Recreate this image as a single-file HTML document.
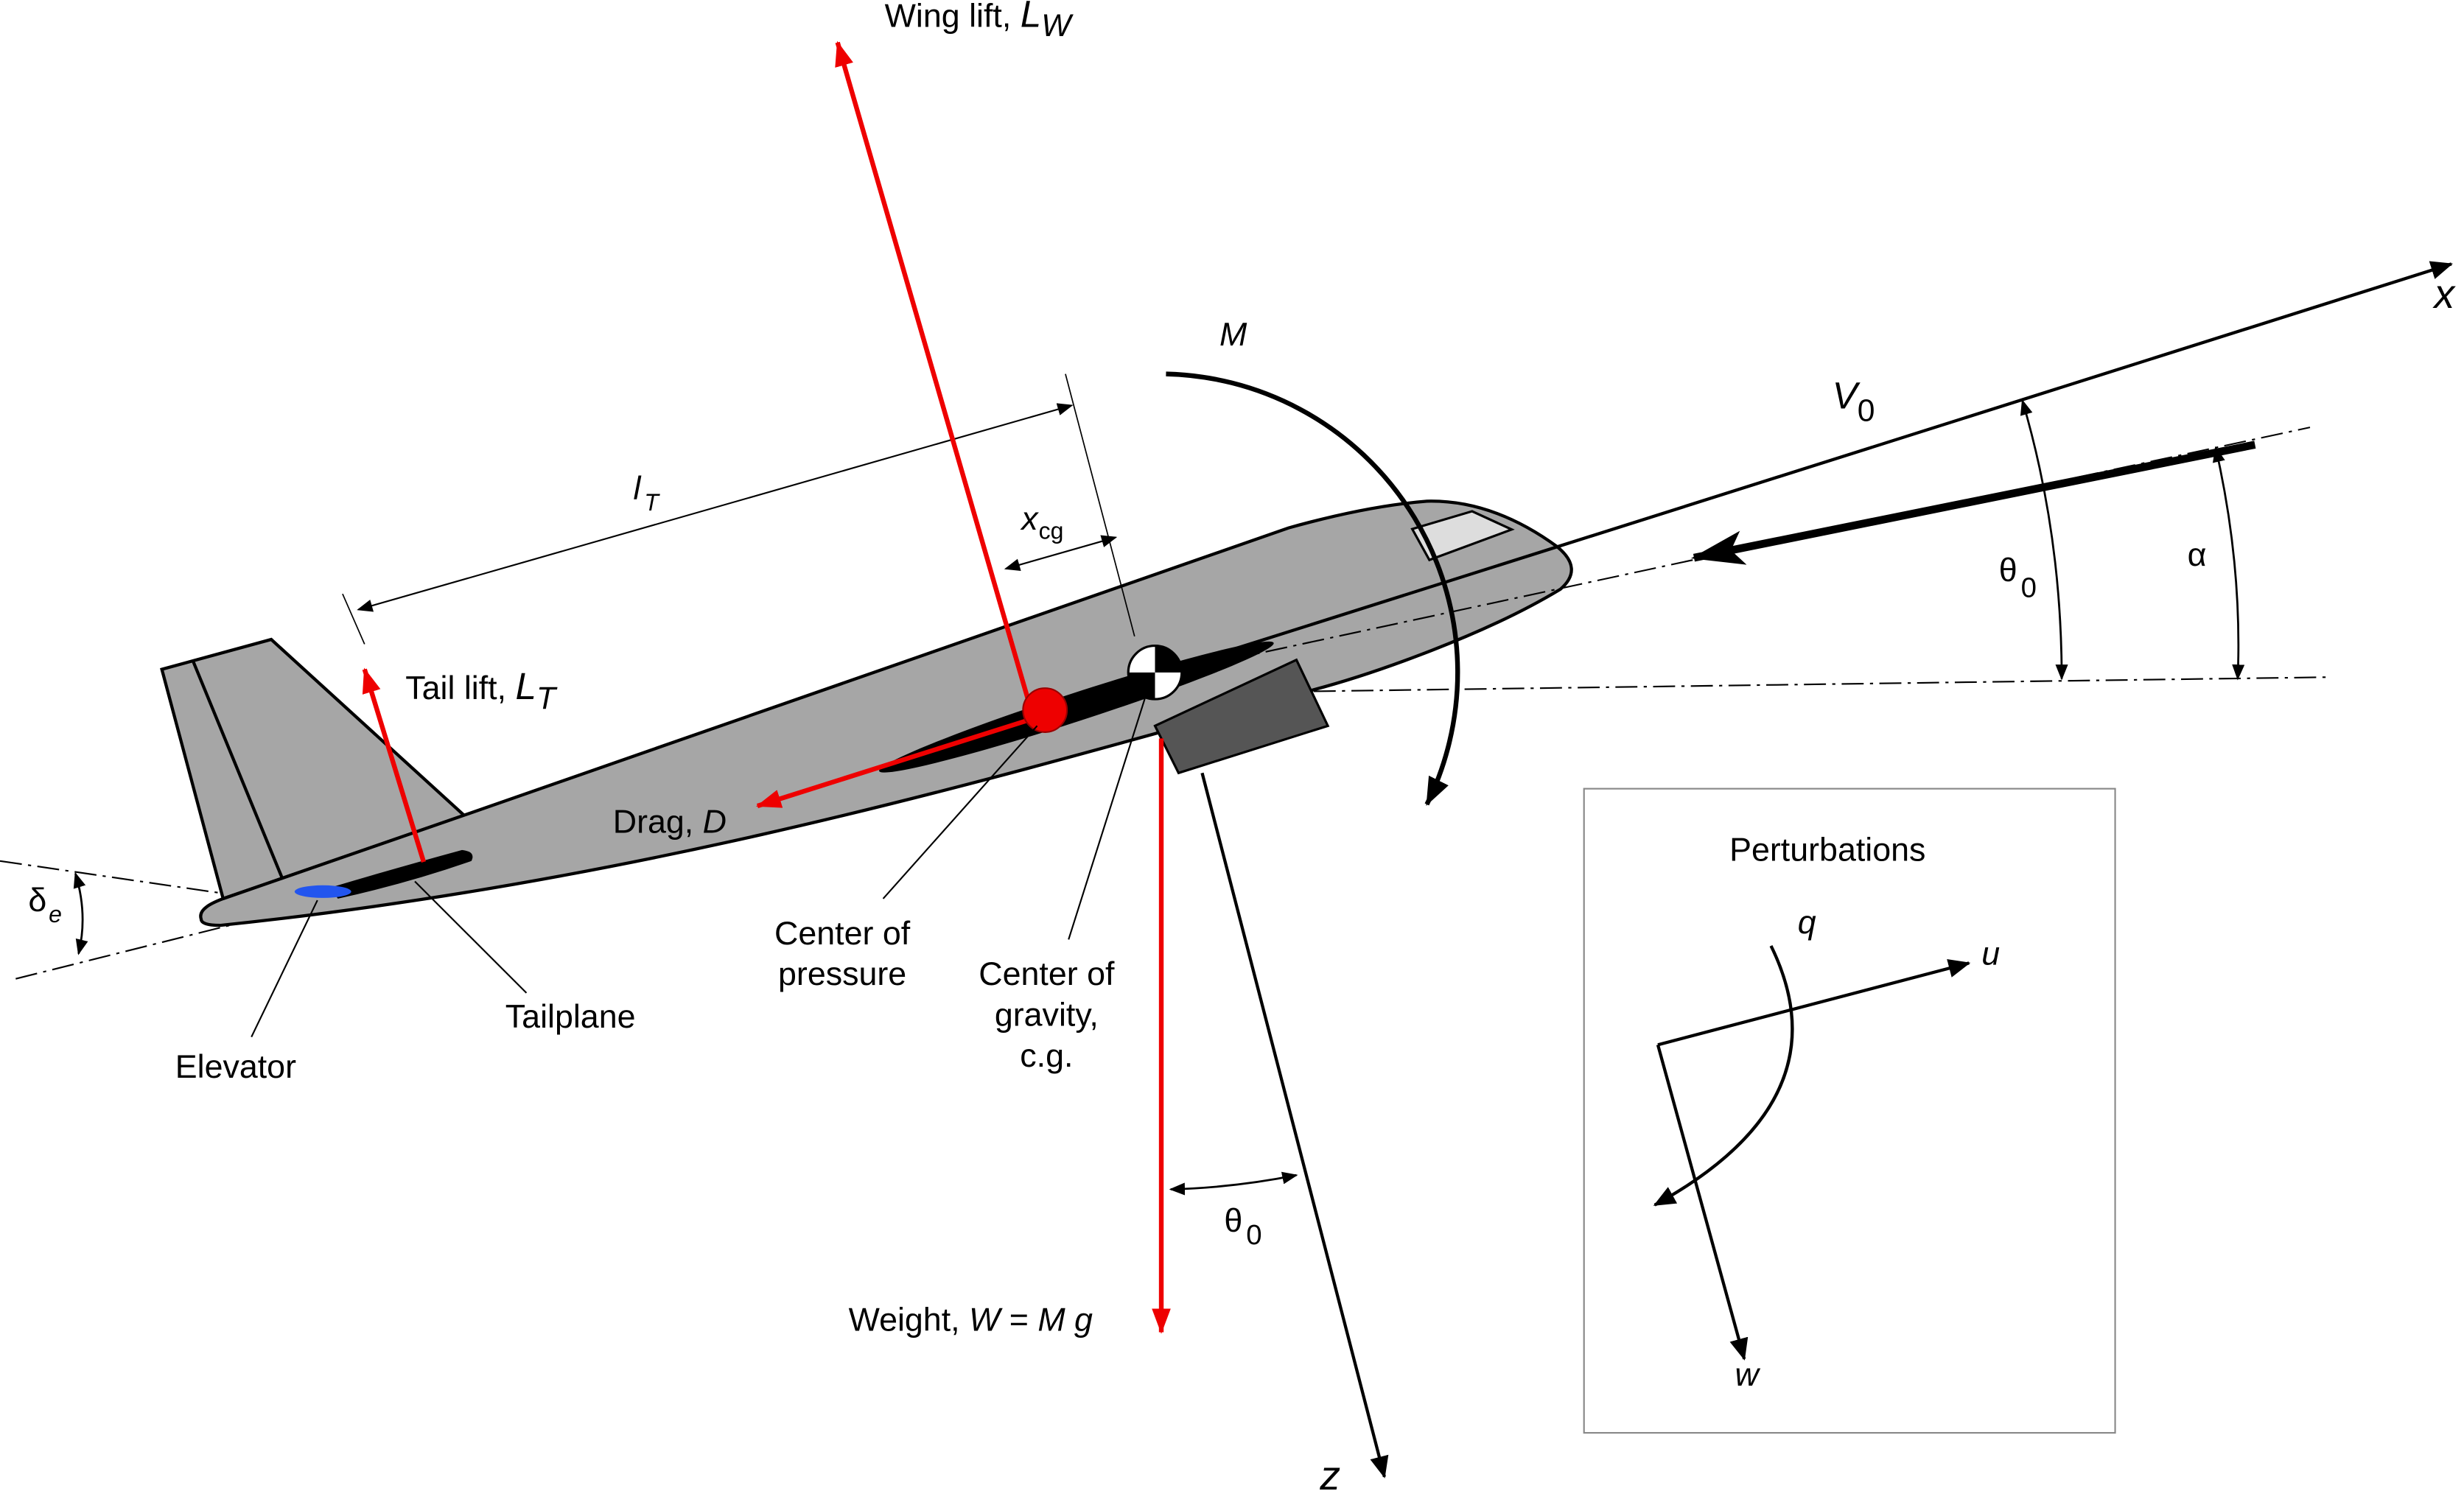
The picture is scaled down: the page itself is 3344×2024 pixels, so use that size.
<!DOCTYPE html>
<html><head><meta charset="utf-8"><style>
html,body{margin:0;padding:0;background:#fff;}
svg{display:block;}
text{font-family:"Liberation Sans",Arial,sans-serif;font-size:21px;fill:#000;}
.i{font-style:italic;}
</style></head><body>
<svg width="3344" height="2024" viewBox="0 0 1568 949" xmlns="http://www.w3.org/2000/svg">
<defs>
<marker id="a" markerWidth="10" markerHeight="8" refX="9" refY="4" orient="auto" markerUnits="userSpaceOnUse"><path d="M0,0 L10,4 L0,8 Z" fill="#000"/></marker>
<marker id="as" markerWidth="14" markerHeight="12" refX="13" refY="6" orient="auto" markerUnits="userSpaceOnUse"><path d="M0,0 L14,6 L0,12 Z" fill="#000"/></marker>
<marker id="aL" markerWidth="18" markerHeight="14" refX="17" refY="7" orient="auto" markerUnits="userSpaceOnUse"><path d="M0,0 L18,7 L0,14 Z" fill="#000"/></marker>
<marker id="vb" markerWidth="34" markerHeight="22" refX="32" refY="11" orient="auto" markerUnits="userSpaceOnUse"><path d="M0,0 L34,11 L0,22 L8,11 Z" fill="#000"/></marker>
<marker id="r" markerWidth="16" markerHeight="12" refX="15" refY="6" orient="auto" markerUnits="userSpaceOnUse"><path d="M0,0 L16,6 L0,12 Z" fill="#e00"/></marker>
<marker id="as2" markerWidth="10" markerHeight="8" refX="1" refY="4" orient="auto" markerUnits="userSpaceOnUse"><path d="M10,0 L0,4 L10,8 Z" fill="#000"/></marker>
</defs>

<g stroke="#000" stroke-width="1" stroke-dasharray="14,4,2,4" fill="none">
<line x1="836" y1="440" x2="1482" y2="431"/>
<line x1="0" y1="548" x2="165" y2="572"/>
<line x1="10" y1="623" x2="150" y2="588"/>
</g>

<polygon points="103,426 172.6,407 295.4,519 142,572" fill="#a6a6a6" stroke="#000" stroke-width="2"/>
<line x1="122.7" y1="420.4" x2="179.6" y2="559" stroke="#000" stroke-width="2"/>
<path d="M128,585 C126,579 134,575 142,572 L295,519 L820,336 Q870,322 908,319 Q950,318 991,348 Q1008,362 993,375 Q960,395 911,414 Q870,430 836,439 C650,490 420,560 140,589 Q128,589 128,585 Z" fill="#a6a6a6" stroke="#000" stroke-width="2"/>
<polygon points="898.7,336.7 936.8,325.4 962,337 909.6,356.4" fill="#ddd" stroke="#000" stroke-width="1.5"/>
<line x1="735" y1="430" x2="1470" y2="272" stroke="#000" stroke-width="1" stroke-dasharray="14,4,2,4"/>
<line x1="735" y1="429" x2="1560" y2="168" stroke="#000" stroke-width="2" marker-end="url(#as)"/>
<ellipse cx="685" cy="450" rx="132" ry="9" transform="rotate(-18 685 450)" fill="#000"/>
<path d="M210,565 Q250,553 294,541 Q303,542 300,548 Q260,562 215,572 Z" fill="#000"/>
<ellipse cx="205.5" cy="567.5" rx="18" ry="4" fill="#2255ee"/>
<polygon points="735,462 825,420 845,462 750,492" fill="#555" stroke="#000" stroke-width="1.5"/>

<text x="1549" y="196" class="i" style="font-size:26px">x</text>
<line x1="765" y1="492" x2="881" y2="940" stroke="#000" stroke-width="2" marker-end="url(#as)"/>
<text x="840" y="948" class="i" style="font-size:26px">z</text>

<line x1="1435" y1="283" x2="1078" y2="355" stroke="#000" stroke-width="5" marker-end="url(#vb)"/>
<text x="1166" y="260" class="i" style="font-size:24px">V</text><text x="1182" y="268" style="font-size:20px">0</text>

<path d="M1287,255 Q1312,340 1312,432" stroke="#000" stroke-width="1.3" fill="none" marker-start="url(#as2)" marker-end="url(#a)"/>
<text x="1272" y="370">θ</text><text x="1286" y="380" style="font-size:18px">0</text>
<path d="M1410,285 Q1427,360 1424,432" stroke="#000" stroke-width="1.3" fill="none" marker-start="url(#as2)" marker-end="url(#a)"/>
<text x="1392" y="360">α</text>
<path d="M48,556 Q56,582 50,607" stroke="#000" stroke-width="1.3" fill="none" marker-start="url(#as2)" marker-end="url(#a)"/>
<text x="18" y="580">δ</text><text x="31" y="587" class="i" style="font-size:15px">e</text>

<path d="M742,238 A190,190 0 0 1 908,512" stroke="#000" stroke-width="3" fill="none" marker-end="url(#aL)"/>
<text x="776" y="220" class="i">M</text>

<line x1="678" y1="238" x2="722" y2="405" stroke="#000" stroke-width="0.8"/>
<line x1="218" y1="378" x2="232" y2="410" stroke="#000" stroke-width="0.8"/>
<line x1="228" y1="388" x2="682" y2="258" stroke="#000" stroke-width="1" marker-start="url(#as2)" marker-end="url(#a)"/>
<text x="403" y="318" class="i">l</text><text x="410" y="325" class="i" style="font-size:15px">T</text>
<line x1="640" y1="362" x2="710" y2="342" stroke="#000" stroke-width="1" marker-start="url(#as2)" marker-end="url(#a)"/>
<text x="650" y="337" class="i">x</text><text x="661" y="343" style="font-size:15px">cg</text>

<g stroke="#e00" stroke-width="3" fill="none">
<line x1="655" y1="448" x2="533" y2="27" marker-end="url(#r)"/>
<line x1="665" y1="455" x2="482" y2="513" marker-end="url(#r)"/>
<line x1="269.6" y1="548.6" x2="232" y2="426" marker-end="url(#r)"/>
<line x1="739" y1="470" x2="739" y2="848" marker-end="url(#r)"/>
</g>
<circle cx="665" cy="452" r="14" fill="#e00" stroke="#900" stroke-width="1"/>
<circle cx="735" cy="428" r="17" fill="#fff" stroke="#000" stroke-width="1.5"/>
<path d="M735,428 L735,411 A17,17 0 0 1 752,428 Z M735,428 L735,445 A17,17 0 0 1 718,428 Z" fill="#000"/>

<path d="M745,757 Q785,756 825,748" stroke="#000" stroke-width="1.3" fill="none" marker-start="url(#as2)" marker-end="url(#a)"/>
<text x="779" y="784">θ</text><text x="793" y="792" style="font-size:18px">0</text>

<text x="563" y="17">Wing lift, <tspan class="i" style="font-size:24px">L</tspan><tspan class="i" dy="6" style="font-size:20px">W</tspan></text>
<text x="258" y="445">Tail lift, <tspan class="i" style="font-size:24px">L</tspan><tspan class="i" dy="6" style="font-size:20px">T</tspan></text>
<text x="390" y="530">Drag, <tspan class="i">D</tspan></text>
<text x="540" y="847">Weight, <tspan class="i">W</tspan> = <tspan class="i">M g</tspan></text>
<g stroke="#000" stroke-width="1">
<line x1="562" y1="572" x2="660" y2="462"/>
<line x1="680" y1="598" x2="730" y2="440"/>
<line x1="335" y1="632" x2="264" y2="561"/>
<line x1="160" y1="660" x2="202" y2="573"/>
</g>
<text x="536" y="601" text-anchor="middle">Center of</text>
<text x="536" y="627" text-anchor="middle">pressure</text>
<text x="666" y="627" text-anchor="middle">Center of</text>
<text x="666" y="653" text-anchor="middle">gravity,</text>
<text x="666" y="679" text-anchor="middle">c.g.</text>
<text x="363" y="654" text-anchor="middle">Tailplane</text>
<text x="150" y="686" text-anchor="middle">Elevator</text>

<rect x="1008" y="502" width="338" height="410" fill="none" stroke="#888" stroke-width="1"/>
<text x="1163" y="548" text-anchor="middle">Perturbations</text>
<line x1="1055" y1="665" x2="1253" y2="613" stroke="#000" stroke-width="2" marker-end="url(#as)"/>
<line x1="1055" y1="665" x2="1110" y2="865" stroke="#000" stroke-width="2" marker-end="url(#as)"/>
<path d="M1127,602 Q1175,700 1053,767" stroke="#000" stroke-width="2" fill="none" marker-end="url(#as)"/>
<text x="1144" y="594" class="i">q</text>
<text x="1261" y="614" class="i">u</text>
<text x="1104" y="882" class="i">w</text>
</svg>
</body></html>
